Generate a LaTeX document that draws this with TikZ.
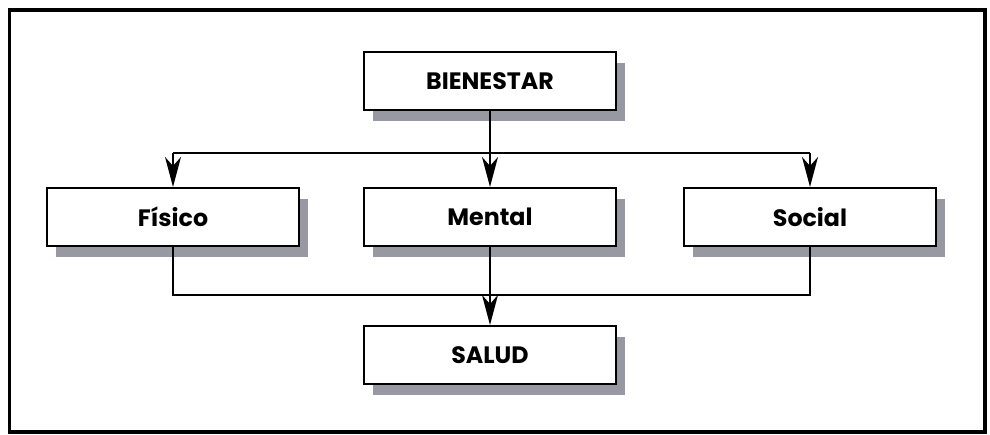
\documentclass[tikz,border=0pt]{standalone}
\usepackage{fontspec}
\setsansfont{Poppins}
\usetikzlibrary{arrows.meta,shadows}
\definecolor{sombra}{RGB}{152,152,162}
\begin{document}
\begin{tikzpicture}[
      font=\sffamily\bfseries\fontsize{13.5}{15}\selectfont,
      caja/.style={draw=black, line width=1.2pt, fill=white, minimum width=5.04cm,
        minimum height=1.16cm, inner sep=0pt,
        drop shadow={shadow xshift=0.18cm, shadow yshift=-0.22cm, fill=sombra, opacity=1}},
      flecha/.style={-{Stealth[length=6mm, width=3.2mm, inset=1.8mm]}, line width=0.9pt},
      linea/.style={line width=0.9pt}
    ]
      % page size and outer frame
      \useasboundingbox (0,0) rectangle (19.8,-8.7);
      \draw[line width=1.8pt] (0.19,-0.2) rectangle (19.7,-8.64);

      % boxes
      \node[caja] (bienestar) at (9.8,-1.62) {BIENESTAR};
      \node[caja] (fisico) at (3.46,-4.34) {Físico};
      \node[caja] (mental) at (9.8,-4.34) {Mental};
      \node[caja] (social) at (16.2,-4.34) {Social};
      \node[caja] (salud) at (9.8,-7.1) {SALUD};

      % branching points
      \coordinate (reparto) at (9.8,-3.06);
      \coordinate (union) at (9.8,-5.9);

      % from BIENESTAR down to the three boxes
      \draw[linea] (reparto -| fisico.north) -- (reparto -| social.north);
      \draw[flecha] (bienestar.south) -- (mental.north);
      \draw[flecha] (reparto -| fisico.north) -- (fisico.north);
      \draw[flecha] (reparto -| social.north) -- (social.north);

      % from the three boxes down to SALUD
      \draw[linea] (fisico.south) |- (union) -| (social.south);
      \draw[flecha] (mental.south) -- (salud.north);
\end{tikzpicture}
\end{document}
